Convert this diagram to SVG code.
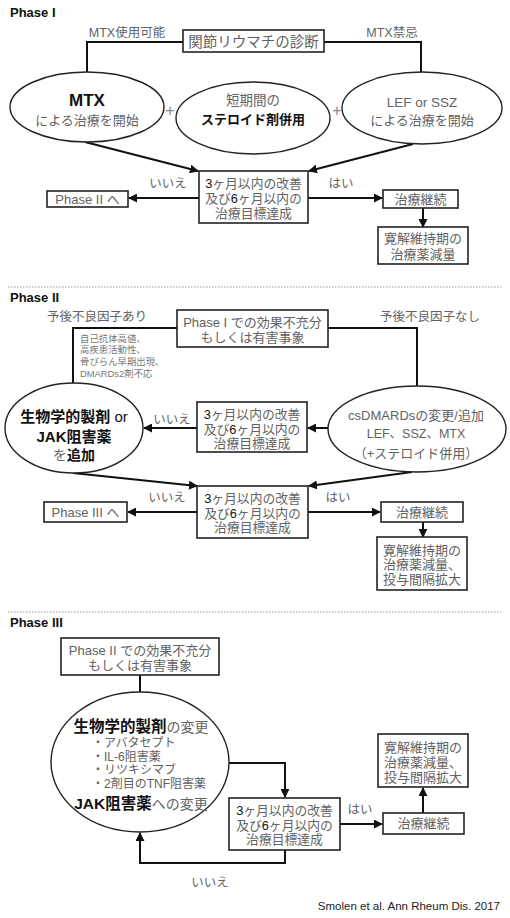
<svg xmlns="http://www.w3.org/2000/svg" width="510" height="918" viewBox="0 0 510 918">
<defs>
<style>
text{font-family:"Liberation Sans","Noto Sans CJK JP",sans-serif;fill:#626262;font-size:13px;text-anchor:middle}
.title{font-weight:bold;fill:#111;font-size:13px;text-anchor:start}
.b{font-weight:bold;fill:#111}
.k{fill:#111}
.s{font-size:12.5px}
.d{font-size:12.8px}
.sm{font-size:9.4px;fill:#777;text-anchor:start}
.box{fill:#fff;stroke:#222;stroke-width:1.6}
.ell{fill:#fff;stroke:#222;stroke-width:1.4}
.c{fill:none;stroke:#111;stroke-width:2}
.a{marker-end:url(#ah)}
.sep{stroke:#bdbdbd;stroke-width:1.5;stroke-dasharray:1.5 1.5}
</style>
<marker id="ah" viewBox="0 0 10 10" refX="9" refY="5" markerWidth="9" markerHeight="9" markerUnits="userSpaceOnUse" orient="auto">
<path d="M0,0 L10,5 L0,10 z" fill="#111"/>
</marker>
</defs>
<rect width="510" height="918" fill="#fff"/>

<!-- separators and titles -->
<text class="title" x="10" y="17">Phase I</text>
<line class="sep" x1="8" y1="287" x2="502" y2="287"/>
<text class="title" x="10" y="302">Phase II</text>
<line class="sep" x1="8" y1="612" x2="502" y2="612"/>
<text class="title" x="10" y="627">Phase III</text>

<!-- connectors -->
<g id="connectors">
<path class="c" d="M183,42 H87 V72"/>
<path class="c" d="M324,42 H421 V72"/>
<path class="c a" d="M85,142 L198,171"/>
<path class="c a" d="M413,144 L309,171"/>
<path class="c a" d="M199,198 H129"/>
<path class="c a" d="M308,198 H382"/>
<path class="c a" d="M423,208 V227"/>

<path class="c" d="M177,328 H73 V383"/>
<path class="c" d="M328,328 H417 V386"/>
<path class="c a" d="M197,428 H144"/>
<path class="c a" d="M328,428 H308"/>
<path class="c a" d="M73,473 L197,486"/>
<path class="c a" d="M412,472 L309,486"/>
<path class="c a" d="M197,512 H128"/>
<path class="c a" d="M308,512 H380"/>
<path class="c a" d="M423,522 V537"/>

<path class="c" d="M140,675 V692"/>
<path class="c a" d="M229,763 H285 V797"/>
<path class="c a" d="M340,824 H382"/>
<path class="c a" d="M423,813 V788"/>
<path class="c a" d="M285,850 V863 H140 V833"/>

<text class="s" x="127" y="37">MTX使用可能</text>
<text class="s" x="392" y="37">MTX禁忌</text>
<text class="s" x="168" y="188">いいえ</text>
<text class="s" x="341" y="188">はい</text>
<text class="s" x="97" y="321">予後不良因子あり</text>
<text class="s" x="430" y="321">予後不良因子なし</text>
<text class="s" x="172" y="424">いいえ</text>
<text class="s" x="167" y="502">いいえ</text>
<text class="s" x="338" y="502">はい</text>
<text class="s" x="360" y="814">はい</text>
<text class="s" x="210" y="887">いいえ</text>
</g>

<!-- Phase I -->
<g id="p1-diagnosis">
<rect class="box" x="183" y="30" width="141" height="22"/>
<text x="253.5" y="46.5" style="font-size:14.5px">関節リウマチの診断</text>
</g>
<g id="p1-mtx">
<ellipse class="ell" cx="87" cy="107" rx="77" ry="35"/>
<text class="b" x="87" y="106" style="font-size:17px">MTX</text>
<text x="87" y="125">による治療を開始</text>
</g>
<g id="p1-steroid">
<ellipse class="ell" cx="253" cy="118" rx="77" ry="36"/>
<text x="253" y="105" style="font-size:13.5px">短期間の</text>
<text class="b" x="253" y="124">ステロイド剤併用</text>
</g>
<g id="p1-lef">
<ellipse class="ell" cx="422" cy="108" rx="80" ry="36"/>
<text x="422" y="107" style="font-size:13.5px">LEF or SSZ</text>
<text x="422" y="125">による治療を開始</text>
</g>
<text x="170" y="116" style="font-size:16px;fill:#888">+</text>
<text x="337" y="116" style="font-size:16px;fill:#888">+</text>
<g id="p1-decision">
<rect class="box" x="199" y="171" width="109" height="52"/>
<text class="d" x="253.5" y="188"><tspan class="k">3</tspan>ヶ月以内の改善</text>
<text class="d" x="253.5" y="203">及び<tspan class="k">6</tspan>ヶ月以内の</text>
<text class="d" x="253.5" y="218">治療目標達成</text>
</g>
<g id="p1-phase2">
<rect class="box" x="47" y="191" width="81" height="16"/>
<text x="87.5" y="204">Phase II へ</text>
</g>
<g id="p1-continue">
<rect class="box" x="383" y="190" width="75" height="18"/>
<text x="420.5" y="204">治療継続</text>
</g>
<g id="p1-reduce">
<rect class="box" x="378" y="227" width="90" height="37"/>
<text x="423" y="243">寛解維持期の</text>
<text x="423" y="259">治療薬減量</text>
</g>

<!-- Phase II -->
<g id="p2-start">
<rect class="box" x="177" y="310" width="151" height="37"/>
<text x="252.5" y="327">Phase I での効果不充分</text>
<text x="252.5" y="342">もしくは有害事象</text>
</g>
<g id="p2-factors">
<text class="sm" x="80" y="342">自己抗体高値、</text>
<text class="sm" x="80" y="353">高疾患活動性、</text>
<text class="sm" x="80" y="365">骨びらん早期出現、</text>
<text class="sm" x="80" y="377">DMARDs2剤不応</text>
</g>
<g id="p2-bio">
<ellipse class="ell" cx="74" cy="428" rx="69" ry="45"/>
<text x="74" y="422" style="font-size:15px"><tspan class="b">生物学的製剤</tspan><tspan class="k"> or</tspan></text>
<text class="b" x="74" y="442" style="font-size:15px">JAK阻害薬</text>
<text x="74" y="460" style="font-size:14px">を<tspan class="b">追加</tspan></text>
</g>
<g id="p2-cs">
<ellipse class="ell" cx="417" cy="429" rx="89" ry="43"/>
<text x="416" y="420">csDMARDsの変更/追加</text>
<text x="416" y="438" style="font-size:12.5px">LEF、SSZ、MTX</text>
<text x="416" y="458">（+ステロイド併用）</text>
</g>
<g id="p2-decision1">
<rect class="box" x="197" y="402" width="110" height="50"/>
<text class="d" x="252" y="419"><tspan class="k">3</tspan>ヶ月以内の改善</text>
<text class="d" x="252" y="434">及び<tspan class="k">6</tspan>ヶ月以内の</text>
<text class="d" x="252" y="448">治療目標達成</text>
</g>
<g id="p2-decision2">
<rect class="box" x="197" y="486" width="111" height="52"/>
<text class="d" x="252.5" y="503"><tspan class="k">3</tspan>ヶ月以内の改善</text>
<text class="d" x="252.5" y="518">及び<tspan class="k">6</tspan>ヶ月以内の</text>
<text class="d" x="252.5" y="532">治療目標達成</text>
</g>
<g id="p2-phase3">
<rect class="box" x="44" y="502" width="83" height="20"/>
<text x="85.5" y="517">Phase III へ</text>
</g>
<g id="p2-continue">
<rect class="box" x="381" y="502" width="82" height="20"/>
<text x="422" y="517">治療継続</text>
</g>
<g id="p2-reduce">
<rect class="box" x="377" y="537" width="90" height="53"/>
<text x="422" y="555">寛解維持期の</text>
<text x="422" y="569">治療薬減量、</text>
<text x="422" y="584">投与間隔拡大</text>
</g>

<!-- Phase III -->
<g id="p3-start">
<rect class="box" x="61" y="638" width="158" height="37"/>
<text x="140" y="655">Phase II での効果不充分</text>
<text x="140" y="670">もしくは有害事象</text>
</g>
<g id="p3-change">
<ellipse class="ell" cx="140" cy="762" rx="89" ry="70"/>
<text x="141" y="732" style="font-size:14px"><tspan class="b" style="font-size:15.5px">生物学的製剤</tspan>の変更</text>
<text x="92" y="747" style="text-anchor:start;font-size:12px">・アバタセプト</text>
<text x="92" y="761" style="text-anchor:start;font-size:12px">・IL-6阻害薬</text>
<text x="92" y="774" style="text-anchor:start;font-size:12px">・リツキシマブ</text>
<text x="92" y="788" style="text-anchor:start;font-size:12px">・2剤目のTNF阻害薬</text>
<text x="141" y="809" style="font-size:14px"><tspan class="b" style="font-size:15.5px">JAK阻害薬</tspan>への変更</text>
</g>
<g id="p3-decision">
<rect class="box" x="229" y="798" width="111" height="52"/>
<text class="d" x="284.5" y="815"><tspan class="k">3</tspan>ヶ月以内の改善</text>
<text class="d" x="284.5" y="830">及び<tspan class="k">6</tspan>ヶ月以内の</text>
<text class="d" x="284.5" y="844">治療目標達成</text>
</g>
<g id="p3-continue">
<rect class="box" x="383" y="813" width="81" height="21"/>
<text x="423.5" y="828">治療継続</text>
</g>
<g id="p3-reduce">
<rect class="box" x="378" y="734" width="90" height="53"/>
<text x="423" y="752">寛解維持期の</text>
<text x="423" y="767">治療薬減量、</text>
<text x="423" y="782">投与間隔拡大</text>
</g>

<text x="500" y="910" style="font-size:11.5px;fill:#222;text-anchor:end">Smolen et al. Ann Rheum Dis. 2017</text>
</svg>
